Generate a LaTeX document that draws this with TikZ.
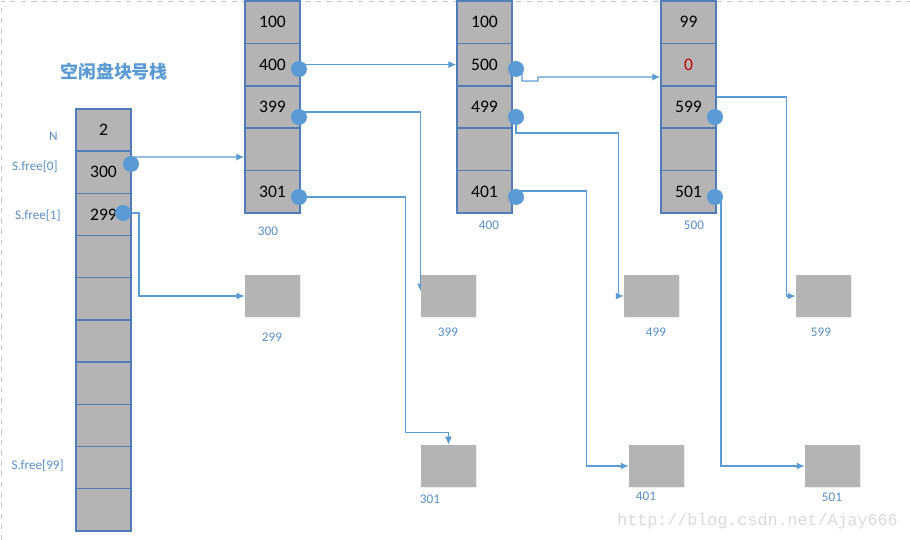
\documentclass[tikz,border=0pt]{standalone}
\usepackage{fontspec}
\setmainfont{Carlito}
\newfontfamily\cjk{Noto Sans CJK SC}
\newfontfamily\wmfont{Liberation Mono}
\usetikzlibrary{
    arrows.meta,
    backgrounds,
    calc,
    positioning,
    shadows,
}
\definecolor{CellGray}{RGB}{180,180,180}
\definecolor{CellEdge}{RGB}{80,125,185}
\definecolor{LinkBlue}{RGB}{91,155,213}
\definecolor{LabelBlue}{RGB}{88,142,200}
\tikzstyle{cell}=[draw=CellEdge,fill=CellGray,line width=.8pt,minimum width=1.1cm,minimum height=.846cm,inner sep=0pt,font=\fontsize{10}{12}\selectfont]
\tikzstyle{freeblk}=[fill=CellGray,minimum width=1.1cm,minimum height=.84cm,inner sep=0pt,drop shadow={opacity=.15,shadow xshift=.6pt,shadow yshift=-.6pt}]
\tikzstyle{dot}=[circle,fill=LinkBlue,inner sep=0pt,minimum size=.32cm]
\tikzstyle{lbl}=[text=LabelBlue,font=\fontsize{7.5}{9}\selectfont,inner sep=0pt]
\tikzstyle{title}=[text=LinkBlue,font=\cjk\bfseries\fontsize{10.2}{12}\selectfont,inner sep=0pt]
\tikzstyle{link}=[->,draw=LinkBlue,line width=.7pt]
\tikzstyle{frame}=[dashed,gray!45,line width=.5pt]
\tikzstyle{wm}=[text=gray!30,font=\wmfont\fontsize{9.5}{11}\selectfont,inner sep=0pt]
\tikzset{
    >={Latex[length=4.5pt,width=4pt]}
}
\newcommand{\DiskBlock}[4]{%
    \foreach \t [count=\i] in {#4}
        \node[cell] (blk#1-\i) at (#2,{1+42.4*(\i-0.5)}) {\t};
    \node[lbl] (lbl#1) at (#3) {#1};
}

\begin{document}
\begin{tikzpicture}[x=0.02cm,y=-0.02cm]
    \useasboundingbox (0,0) rectangle (910,540);
    \draw[frame] (1,540) -- (1,1) -- (910,1);

    % free block stack
    \node[title] (title) at (114,72) {空闲盘块号栈};
    \foreach \t [count=\i] in {2,300,299,{},{},{},{},{},{},{}}
        \node[cell] (stk\i) at (103.5,{109+42.2*(\i-0.5)}) {\t};
    \node[lbl,anchor=east] (rowN) at (58,136) {N};
    \node[lbl,anchor=east] (row0) at (58,167) {S.free[0]};
    \node[lbl,anchor=east] (row1) at (61,216) {S.free[1]};
    \node[lbl,anchor=east] (row99) at (64,466) {S.free[99]};

    % group blocks
    \DiskBlock{300}{272.5}{268,231}{100,400,399,{},301};
    \DiskBlock{400}{484.5}{489,225}{100,500,499,{},401};
    \DiskBlock{500}{688.5}{694,225}{99,\textcolor{red!75!black}{0},599,{},501};

    % single free blocks
    \foreach \n/\x/\y/\lx/\ly in {299/272.5/296/272/337,399/448.5/296/448/332,
        499/651.5/296/656/332,599/823.5/296/821/332,301/448.5/466/430/499,
        401/656.5/466/646/496,501/832.5/466/832/497}{
        \node[freeblk] (f\n) at (\x,\y) {};
        \node[lbl] (l\n) at (\lx,\ly) {\n};
    }

    % pointers
    \foreach \n/\x/\y in {300/131/164,299/123/213,400/299/69,399/299/117,301/299/197,
        500/516/69,499/516/117,401/516/197,599/715/117,501/715/197}
        \node[dot] (dot\n) at (\x,\y) {};

    \begin{scope}[on background layer]
    \draw[link] ($(dot300)+(0,-7)$) -- ($(blk300-4.west)+(0,7.6)$);
    \draw[link] ($(dot299)+(8,0)$) -- ++(8,0) |- (f299.west);
    \draw[link] (dot400.center |- blk400-2.west) -- (blk400-2.west);
    \draw[link] ($(dot399)+(0,-5)$) -| ($(f399.north west)+(0,17)$);
    \draw[link] (dot301.center) -| ($(f301.north)+(-43,-12)$) -| (f301.north);
    \draw[link] ($(dot500)+(6,0)$) -- ++(0,12) -- ++(16,0) -- ++(0,-4) -- ($(blk500-2.west)+(0,12.4)$);
    \draw[link] (dot499.center) -- ++(0,16) -| ($(f499.west)+(-5,0)$) -- (f499.west);
    \draw[link] ($(dot401)+(0,-6)$) -| ($(f401.west)+(-42,0)$) -- (f401.west);
    \draw[link] ($(dot599)+(1,-20)$) -| ($(f599.west)+(-9,0)$) -- (f599.west);
    \draw[link] ($(dot501)+(6,0)$) |- (f501.west);
    \end{scope}

    \node[wm,anchor=west] (wmark) at (617,521) {http://blog.csdn.net/Ajay666};
\end{tikzpicture}
\end{document}
